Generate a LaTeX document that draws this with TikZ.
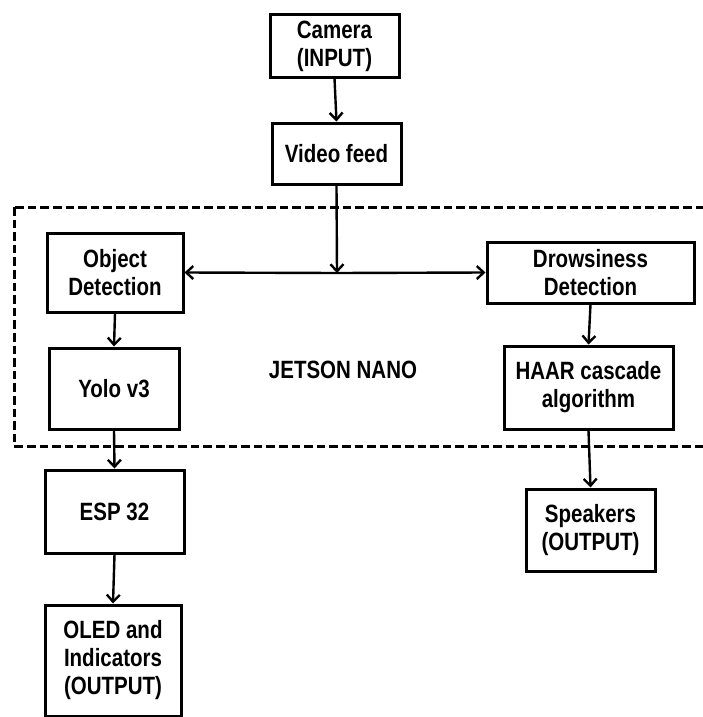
\documentclass[tikz,border=0pt]{standalone}
\usepackage{fontspec}
\newfontfamily\narrowfont{Liberation Sans}[FakeStretch=0.82]
\usetikzlibrary{arrows.meta}
\tikzset{
  box/.style={draw, line width=3pt, inner sep=0pt, align=center,
    font=\narrowfont\bfseries\fontsize{25}{28}\selectfont},
  arr/.style={line width=2.4pt, -{Straight Barb[length=7pt,width=13pt,line width=2.4pt]}},
  lbl/.style={font=\narrowfont\bfseries\fontsize{25}{28}\selectfont, inner sep=0pt}
}
\begin{document}
\begin{tikzpicture}[x=1pt,y=-1pt]
\useasboundingbox (0,0) rectangle (702,717);
\draw[line width=3pt, dash pattern=on 8.6pt off 4pt] (14,207) rectangle (706,446);
\node[box, minimum width=129pt, minimum height=62pt] (cam) at (334.5,46) {Camera\\(INPUT)};
\node[box, minimum width=129pt, minimum height=61pt] (vid) at (336.5,153.5) {Video feed};
\node[box, minimum width=136pt, minimum height=79pt] (obj) at (115,272.5) {Object\\Detection};
\node[box, minimum width=207pt, minimum height=61pt] (drw) at (590.5,272.5) {Drowsiness\\Detection};
\node[box, minimum width=130pt, minimum height=81pt] (yolo) at (114,388.5) {Yolo v3};
\node[box, minimum width=169pt, minimum height=83pt] (haar) at (588.5,387.5) {HAAR cascade\\algorithm};
\node[box, minimum width=139pt, minimum height=83pt] (esp) at (114.5,511.5) {ESP 32};
\node[box, minimum width=129pt, minimum height=82pt] (spk) at (590.5,530) {Speakers\\(OUTPUT)};
\node[box, minimum width=136pt, minimum height=111pt] (oled) at (113,660.5) {OLED and\\Indicators\\(OUTPUT)};
\node[lbl] (jet) at (343,370) {JETSON NANO};
\coordinate (j) at (337,273);
\draw[arr] (cam.south) -- (vid.north);
\draw[arr] (vid.south) -- (j);
\draw[arr] (j) -- (obj.east);
\draw[arr] (j) -- (drw.west);
\draw[arr] (obj.south) -- (yolo.north);
\draw[arr] (drw.south) -- (haar.north);
\draw[arr] (yolo.south) -- (esp.north);
\draw[arr] (esp.south) -- (oled.north);
\draw[arr] (haar.south) -- (spk.north);
\end{tikzpicture}
\end{document}
